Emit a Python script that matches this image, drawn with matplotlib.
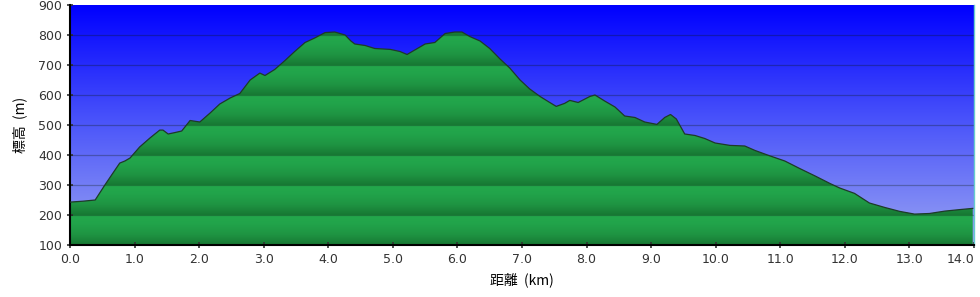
import numpy as np
import matplotlib
matplotlib.use("Agg")
import matplotlib.pyplot as plt
from matplotlib.colors import LinearSegmentedColormap

plt.rcParams['font.family'] = ['DejaVu Sans', 'Noto Sans CJK JP']

# profile data (km, m)
dist = [0.0, 0.2, 0.39, 0.54, 0.65, 0.77, 0.85, 0.93, 1.08, 1.24, 1.39, 1.44, 1.52, 1.63, 1.73,
        1.86, 2.01, 2.17, 2.32, 2.48, 2.63, 2.79, 2.94, 3.02, 3.17, 3.33, 3.48, 3.64, 3.79,
        3.95, 4.1, 4.26, 4.35, 4.41, 4.57, 4.72, 4.96, 5.11, 5.22, 5.34, 5.5, 5.65, 5.81,
        5.96, 6.07, 6.19, 6.35, 6.5, 6.66, 6.81, 6.97, 7.12, 7.28, 7.43, 7.53, 7.66, 7.74,
        7.87, 8.05, 8.13, 8.28, 8.44, 8.59, 8.75, 8.9, 9.09, 9.21, 9.3, 9.39, 9.52, 9.68,
        9.83, 9.99, 10.22, 10.45, 10.61, 10.84, 11.07, 11.3, 11.54, 11.77, 11.92, 12.15,
        12.38, 12.62, 12.85, 13.08, 13.31, 13.55, 13.78, 13.98]
elev = [243, 246, 250, 300, 335, 373, 380, 390, 427, 457, 483, 483, 470, 475, 480,
        515, 510, 540, 570, 590, 605, 650, 673, 665, 685, 715, 745, 775, 790,
        808, 810, 800, 780, 770, 765, 755, 752, 745, 735, 750, 770, 775, 805,
        810, 810, 795, 780, 755, 720, 690, 650, 620, 595, 575, 562, 572, 582,
        575, 595, 600, 580, 560, 530, 525, 510, 502, 525, 535, 520, 470, 465,
        455, 440, 432, 430, 415, 397, 380, 355, 330, 305, 290, 272,
        240, 225, 212, 203, 205, 213, 218, 222]

xticks = np.arange(0, 14.01, 1.0)
yticks = np.arange(100, 901, 100)

fig = plt.figure(figsize=(9.8, 2.97), dpi=100)
ax = fig.add_axes([70/980, 1-245/297, 904/980, 240/297])
ax.set_xlim(0, 14.0)
ax.set_ylim(100, 900)

# sky gradient
sky = LinearSegmentedColormap.from_list("sky", [(0.60, 0.64, 0.95), (0.30, 0.34, 0.98), (0.0, 0.0, 1.0)])
g = np.linspace(0, 1, 256).reshape(-1, 1)
ax.imshow(g, cmap=sky, origin="lower", extent=[0, 14.0, 100, 900], aspect="auto", zorder=0)

# banded green fill (darker toward the bottom of each 100 m band)
band = LinearSegmentedColormap.from_list(
    "band", [(0.0, (0.09, 0.47, 0.20)), (0.35, (0.12, 0.58, 0.26)),
             (0.7, (0.13, 0.64, 0.29)), (1.0, (0.14, 0.66, 0.30))])
yy = np.linspace(100, 900, 800)
frac = ((yy - 100) % 100) / 100.0
img = ax.imshow(frac.reshape(-1, 1), cmap=band, origin="lower",
                extent=[0, 14.0, 100, 900], aspect="auto", zorder=1)
poly = ax.fill_between(dist, elev, 100, facecolor="none", edgecolor="none")
clip = poly.get_paths()[0]
img.set_clip_path(clip, transform=ax.transData)
ax.plot(dist, elev, color="#1e3a28", lw=0.9, zorder=3)

for v in yticks[1:-1]:
    ax.axhline(v, color="#0a1a10", alpha=0.3, lw=0.9, zorder=2)

ax.set_xticks(xticks)
ax.set_xticklabels(["%.1f" % t for t in xticks])
ax.get_xticklabels()[-1].set_horizontalalignment("right")
ax.set_yticks(yticks)
ax.tick_params(labelsize=9, colors="#333333", length=4, width=1.2, direction="inout")
ax.tick_params(axis="x", pad=4)
ax.spines["top"].set_visible(False)
ax.spines["right"].set_color("#66cccc")
ax.spines["right"].set_linewidth(1.0)
ax.spines["left"].set_linewidth(1.5)
ax.spines["bottom"].set_linewidth(1.5)

ax.set_xlabel("距離  (km)", fontsize=10, family=["Noto Sans CJK JP", "DejaVu Sans"], labelpad=4)
ax.set_ylabel("標高  (m)", fontsize=10, family=["Noto Sans CJK JP", "DejaVu Sans"], labelpad=8)

fig.savefig("out.png", dpi=100)
